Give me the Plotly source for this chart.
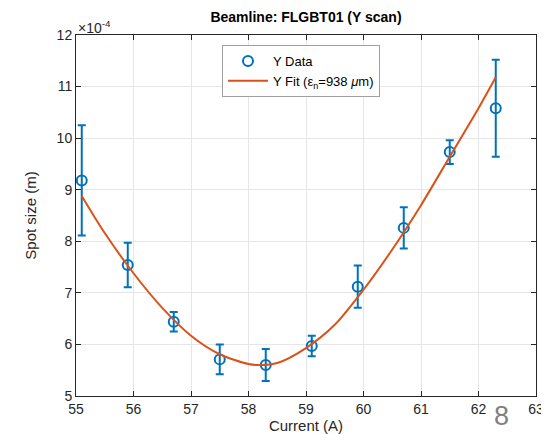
import plotly.graph_objects as go

# Data (spot size in metres)
current = [55.1, 55.9, 56.7, 57.5, 58.3, 59.1, 59.9, 60.7, 61.5, 62.3]
spot_y = [9.18e-4, 7.54e-4, 6.44e-4, 5.71e-4, 5.60e-4, 5.97e-4, 7.12e-4, 8.26e-4, 9.73e-4, 10.58e-4]
spot_err = [1.07e-4, 0.43e-4, 0.19e-4, 0.29e-4, 0.31e-4, 0.20e-4, 0.41e-4, 0.40e-4, 0.23e-4, 0.94e-4]

fit_x = [55.1, 55.5, 56.0, 56.5, 57.0, 57.5, 58.0, 58.2, 58.5, 59.0, 59.5, 60.0, 60.5, 61.0, 61.5, 62.0, 62.3]
fit_y = [8.88e-4, 8.16e-4, 7.38e-4, 6.71e-4, 6.17e-4, 5.81e-4, 5.62e-4, 5.60e-4, 5.64e-4, 5.93e-4, 6.38e-4, 7.06e-4, 7.84e-4, 8.70e-4, 9.64e-4, 10.58e-4, 11.18e-4]

x_ticks = [55, 56, 57, 58, 59, 60, 61, 62, 63]
y_ticks = [5, 6, 7, 8, 9, 10, 11, 12]

SCALE = 1e-4
BLUE = "#0072BD"
ORANGE = "#D95319"
FONT = "Liberation Sans, Arial, Helvetica, sans-serif"
TXT = "#262626"

L, R, T, B = 68, 21, 27, 46
W, H = 549, 434

fig = go.Figure()
fig.add_trace(go.Scatter(
    x=current, y=[v / SCALE for v in spot_y],
    error_y=dict(type="data", array=[e / SCALE for e in spot_err], color=BLUE,
                 thickness=2, width=4),
    mode="markers",
    marker=dict(symbol="circle-open", size=10, color=BLUE, line=dict(width=2, color=BLUE)),
    name="Y Data",
))
fig.add_trace(go.Scatter(
    x=fit_x, y=[v / SCALE for v in fit_y],
    mode="lines", line=dict(color=ORANGE, width=2, shape="spline", smoothing=0.8),
    name="Y Fit (ε<sub>n</sub>=938 <i>μ</i>m)",
))

axis_common = dict(
    showgrid=True, gridcolor="#e6e6e6", gridwidth=1,
    showline=True, linecolor="#262626", linewidth=1, mirror="ticks",
    ticks="inside", ticklen=5, tickcolor="#262626",
    tickfont=dict(family=FONT, size=14, color=TXT),
    zeroline=False, automargin=False,
)

pw = W - L - R
ph = H - T - B

fig.update_layout(
    width=W, height=H,
    margin=dict(l=L, r=R, t=T, b=B),
    paper_bgcolor="white", plot_bgcolor="white",
    font=dict(family=FONT, color=TXT),
    title=dict(text="<b>Beamline: FLGBT01 (Y scan)</b>", x=(L + W - R) / 2 / W, xanchor="center",
               y=1 - 9 / H, yanchor="middle", font=dict(size=14, color="#000000")),
    xaxis=dict(range=[55, 63], tickvals=x_ticks, ticktext=[str(v) for v in x_ticks],
               title=dict(text="Current (A)", font=dict(size=15, color=TXT), standoff=0),
               **axis_common),
    yaxis=dict(range=[5, 12], tickvals=y_ticks, ticktext=[str(v) for v in y_ticks],
               title=dict(text="Spot size (m)", font=dict(size=15, color=TXT), standoff=16),
               **axis_common),
    legend=dict(x=(214 - L) / pw, y=(H - B - 37) / ph, xanchor="left", yanchor="top",
                bgcolor="white", bordercolor="#a0a0a0", borderwidth=1,
                font=dict(family=FONT, size=13, color="#000000"),
                tracegroupgap=0, itemwidth=40),
    showlegend=True,
    annotations=[
        dict(text="×10<sup>-4</sup>", xref="paper", yref="paper", x=0.0, y=1.0,
             xanchor="left", yanchor="bottom", showarrow=False,
             font=dict(family=FONT, size=14, color=TXT), yshift=-3),
        dict(text="8", xref="paper", yref="paper", x=(493 - L) / pw, y=(H - B - 408) / ph,
             xanchor="center", yanchor="middle", showarrow=False,
             font=dict(family=FONT, size=27, color="#808080")),
    ],
)

fig.write_html("out.html")
